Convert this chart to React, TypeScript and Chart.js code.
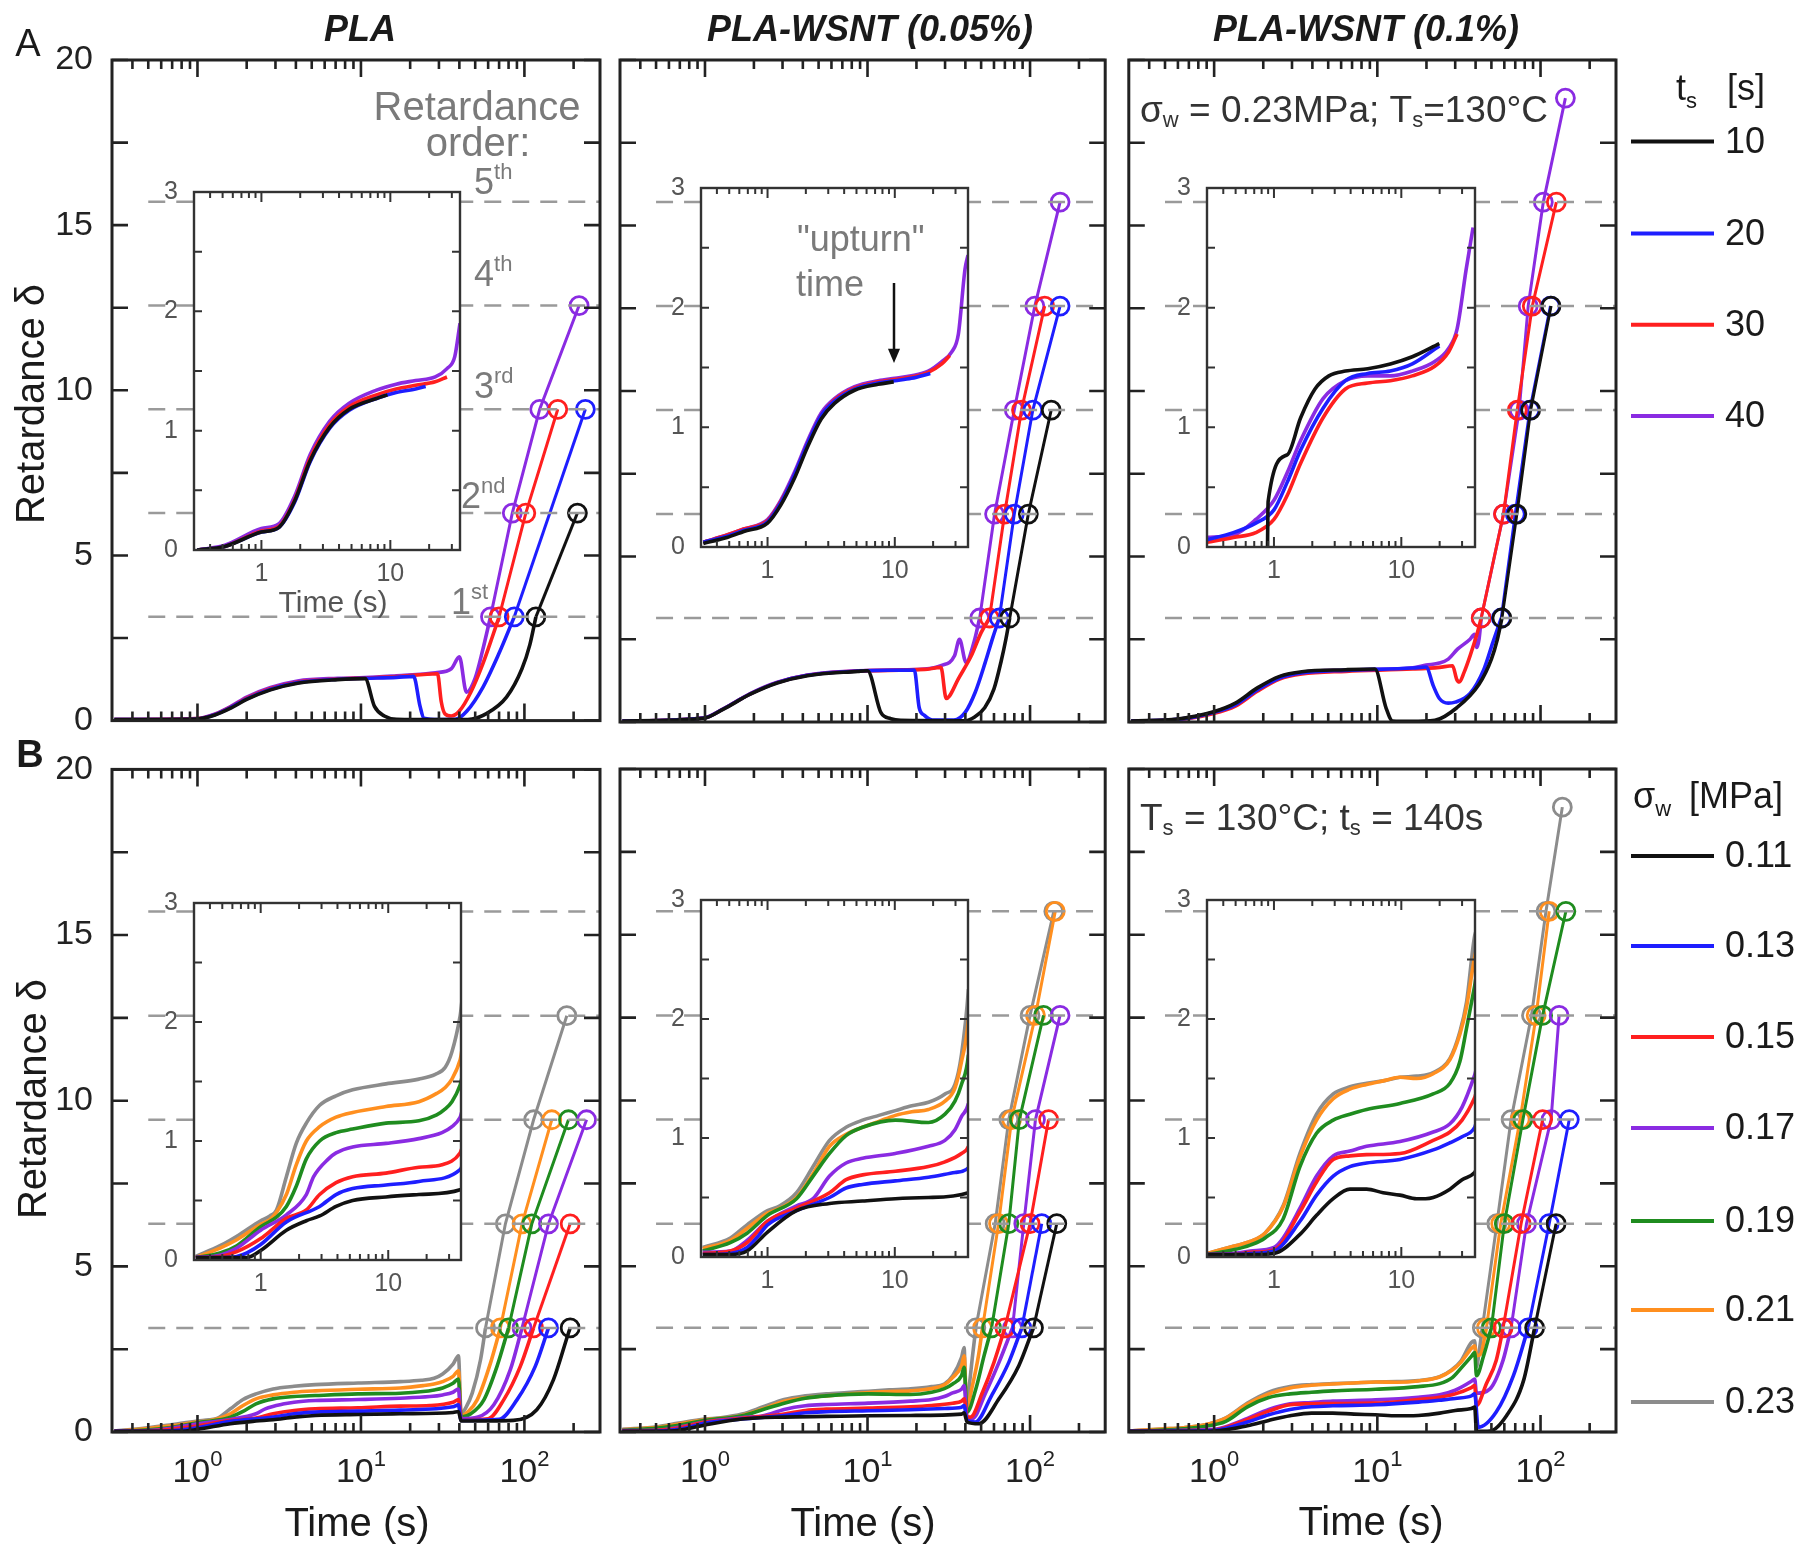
import React, { useEffect, useRef } from "react";
import { Chart, registerables } from "chart.js";

Chart.register(...registerables);

type Pt = [number, number];
type Ord = [number, number]; // [retardance order n, time (s)]

const FONT = '"Liberation Sans", Arial, Helvetica, sans-serif';
const PI = Math.PI;

// ---------------- colours ----------------
const BLACK = "#111111";
const BLUE = "#1e1eff";
const RED = "#ff1f1f";
const PURPLE = "#8a2be2";
const GREEN = "#1f8c1f";
const ORANGE = "#ff8f1f";
const GRAY = "#8c8c8c";

// ---------------- categories / ticks ----------------
const ORDER_N = [1, 2, 3, 4, 5];
const DASH_X = [0.5, 290];
const TS_LABELS = ["10", "20", "30", "40"];
const SIGMA_LABELS = ["0.11", "0.13", "0.15", "0.17", "0.19", "0.21", "0.23"];
const MAIN_Y_TICKS = [0, 5, 10, 15, 20];
const MAIN_Y_MINOR = [0, 2.5, 5, 7.5, 10, 12.5, 15, 17.5, 20];
const MAIN_X_DECADES = [1, 10, 100];
const MAIN_X_MINOR = [0.4, 0.5, 0.6, 0.7, 0.8, 0.9, 2, 3, 4, 5, 6, 7, 8, 9, 20, 30, 40, 50, 60, 70, 80, 90, 200];
const INSET_Y_TICKS = [0, 1, 2, 3];
const INSET_Y_MINOR = [0, 0.5, 1, 1.5, 2, 2.5, 3];
const INSET_X_DECADES = [1, 10];
const INSET_X_MINOR = [0.4, 0.5, 0.6, 0.7, 0.8, 0.9, 2, 3, 4, 5, 6, 7, 8, 9, 20, 30];

// ================= A1 : PLA (t_s series) =================
const A1_black: Pt[] = [[0.31,0.03],[1.0,0.05],[1.28,0.17],[1.6,0.38],[2.0,0.64],[2.8,0.93],[4.1,1.13],[7.2,1.24],[10.6,1.27],[12.1,0.43],[13.9,0.14],[16.5,0.04],[30,0.03],[45,0.03],[58.6,0.21],[77.7,0.71],[96.6,1.57],[108,2.3]];
const A1_black_ord: Ord[] = [[1,117.6],[2,211]];
const A1_blue: Pt[] = [[0.31,0.03],[1.0,0.05],[1.28,0.18],[1.6,0.4],[2.0,0.66],[2.8,0.95],[4.1,1.15],[7.2,1.25],[10.6,1.28],[16.5,1.31],[21,1.34],[23,0.43],[24.3,0.07],[30,0.03],[38,0.04],[44.5,0.29],[55.6,1.0],[69.4,2.0]];
const A1_blue_ord: Ord[] = [[1,86.7],[3,236]];
const A1_red: Pt[] = [[0.31,0.03],[1.0,0.06],[1.28,0.19],[1.6,0.41],[2.0,0.68],[2.8,0.97],[4.1,1.17],[7.2,1.26],[10.6,1.29],[16.5,1.33],[29.4,1.42],[31,0.57],[32.6,0.21],[35.7,0.14],[40,0.29],[47,0.86],[55.6,1.71],[64,2.57]];
const A1_red_ord: Ord[] = [[1,70],[2,102],[3,160]];
const A1_purple: Pt[] = [[0.31,0.03],[1.0,0.06],[1.28,0.2],[1.6,0.43],[2.0,0.71],[2.8,1.0],[4.1,1.2],[7.2,1.28],[10.6,1.3],[16.5,1.36],[28.6,1.45],[35.7,1.57],[40,1.93],[44.2,0.86],[49.9,1.28],[55.6,2.14]];
const A1_purple_ord: Ord[] = [[1,62],[2,84.3],[3,124],[4,216]];
// inset A1
const A1i_black: Pt[] = [[0.318,0.0],[0.52,0.03],[1.0,0.15],[1.37,0.19],[1.81,0.41],[2.39,0.75],[3.39,1.03],[4.8,1.18],[7.8,1.27],[9.5,1.3]];
const A1i_blue: Pt[] = [[0.318,0.0],[0.52,0.03],[1.0,0.15],[1.37,0.19],[1.81,0.4],[2.39,0.74],[3.39,1.02],[4.8,1.17],[7.8,1.27],[11.1,1.32],[15.7,1.35],[18.8,1.37]];
const A1i_red: Pt[] = [[0.318,0.0],[0.52,0.03],[1.0,0.16],[1.37,0.2],[1.81,0.42],[2.39,0.77],[3.39,1.05],[4.8,1.2],[7.8,1.3],[11.1,1.35],[15.7,1.38],[22.3,1.41],[27.5,1.45]];
const A1i_purple: Pt[] = [[0.318,0.0],[0.52,0.04],[1.0,0.18],[1.37,0.22],[1.81,0.45],[2.39,0.8],[3.39,1.08],[4.8,1.23],[7.8,1.34],[11.1,1.39],[15.7,1.42],[22.3,1.45],[27.5,1.52],[31.6,1.62],[34.7,1.9]];

// ================= A2 : PLA-WSNT 0.05% =================
const A2_black: Pt[] = [[0.31,0.03],[0.98,0.11],[1.3,0.39],[1.9,0.84],[2.78,1.18],[4.27,1.4],[8.7,1.53],[10,1.55],[12.1,0.28],[13.9,0.1],[16,0.05],[40,0.04],[45.6,0.15],[52.6,0.43],[60,1.0],[66.5,1.85],[71,2.5]];
const A2_black_ord: Ord[] = [[1,75],[2,97.6],[3,135]];
const A2_blue: Pt[] = [[0.31,0.03],[0.98,0.12],[1.3,0.4],[1.9,0.85],[2.78,1.19],[4.27,1.41],[8.7,1.54],[19.4,1.57],[20.8,0.43],[22.4,0.2],[25,0.06],[34,0.06],[40,0.3],[46,0.9],[53,1.8],[59,2.55]];
const A2_blue_ord: Ord[] = [[1,64.7],[2,80],[3,104],[4,153]];
const A2_red: Pt[] = [[0.31,0.03],[0.98,0.12],[1.3,0.4],[1.9,0.85],[2.78,1.19],[4.27,1.41],[8.7,1.54],[22.4,1.59],[28.3,1.65],[30.5,0.71],[31.9,0.78],[36,1.28],[43.5,2.0],[50,2.7]];
const A2_red_ord: Ord[] = [[1,56.3],[2,69.7],[3,88.6],[4,123]];
const A2_purple: Pt[] = [[0.31,0.03],[0.98,0.12],[1.3,0.4],[1.9,0.86],[2.78,1.2],[4.27,1.42],[8.7,1.55],[22.4,1.6],[28.3,1.7],[34.3,2.0],[36.8,2.5],[40.4,1.8],[45.3,2.43]];
const A2_purple_ord: Ord[] = [[1,49],[2,60.5],[3,80],[4,107],[5,153]];
// inset A2
const A2i_black: Pt[] = [[0.313,0.03],[0.48,0.08],[0.65,0.13],[1.0,0.2],[1.27,0.35],[1.62,0.57],[2.07,0.84],[2.64,1.07],[3.36,1.2],[4.83,1.31],[7.4,1.36],[9.8,1.38]];
const A2i_blue: Pt[] = [[0.313,0.04],[0.48,0.09],[0.65,0.14],[1.0,0.21],[1.27,0.37],[1.62,0.6],[2.07,0.87],[2.64,1.1],[3.36,1.22],[4.83,1.32],[7.4,1.37],[10,1.39],[13.5,1.41],[19,1.45]];
const A2i_red: Pt[] = [[0.313,0.04],[0.48,0.1],[0.65,0.15],[1.0,0.22],[1.27,0.38],[1.62,0.6],[2.07,0.87],[2.64,1.1],[3.36,1.23],[4.83,1.33],[7.4,1.38],[10,1.4],[13.5,1.42],[18.3,1.46],[23.4,1.53],[27,1.6]];
const A2i_purple: Pt[] = [[0.313,0.04],[0.48,0.1],[0.65,0.15],[1.0,0.23],[1.27,0.39],[1.62,0.62],[2.07,0.89],[2.64,1.12],[3.36,1.24],[4.83,1.34],[7.4,1.39],[10,1.41],[13.5,1.43],[18.3,1.47],[23.4,1.55],[28,1.63],[31.6,1.78],[35.6,2.32],[37.6,2.44]];

// ================= A3 : PLA-WSNT 0.1% =================
const A3_black: Pt[] = [[0.31,0.03],[0.6,0.09],[0.98,0.3],[1.35,0.57],[1.84,1.03],[2.52,1.38],[3.45,1.52],[6.44,1.58],[9.66,1.6],[11.3,0.43],[12.4,0.03],[16,0.02],[22.5,0.05],[30.7,0.43],[42,1.14],[50,1.9],[54.4,2.5]];
const A3_black_ord: Ord[] = [[1,58],[2,71.6],[3,87],[4,116]];
const A3_blue: Pt[] = [[0.31,0.03],[0.6,0.08],[0.98,0.28],[1.35,0.52],[1.84,0.97],[2.52,1.33],[3.45,1.48],[6.44,1.56],[16.5,1.63],[19.9,1.66],[22,1.1],[24,0.71],[27.2,0.57],[30,0.6],[37,0.86],[44.8,1.57],[51,2.4]];
const A3_blue_ord: Ord[] = [[1,57.5],[2,70],[3,86],[4,115]];
const A3_red: Pt[] = [[0.31,0.03],[0.6,0.07],[0.98,0.25],[1.35,0.48],[1.84,0.93],[2.52,1.3],[3.45,1.45],[6.44,1.53],[16.5,1.6],[24,1.65],[28.9,1.7],[30.7,1.28],[31.8,1.21],[34,1.5],[37,2.0],[40.7,2.64]];
const A3_red_ord: Ord[] = [[1,43.3],[2,59.3],[3,72],[4,89],[5,125]];
const A3_purple: Pt[] = [[0.31,0.03],[0.6,0.08],[0.98,0.29],[1.35,0.55],[1.84,1.0],[2.52,1.36],[3.45,1.5],[6.44,1.57],[16.5,1.64],[19.9,1.72],[24,1.78],[27.2,1.9],[31,2.2],[37,2.5],[39.4,2.65],[40.7,2.25],[42,2.5]];
const A3_purple_ord: Ord[] = [[1,43.3],[2,59.3],[3,74],[4,84],[5,104],[6,142]];
// inset A3
const A3i_black: Pt[] = [[0.89,0.0],[0.9,0.38],[1.27,0.77],[1.62,1.08],[2.1,1.32],[2.7,1.43],[3.64,1.47],[5.45,1.49],[8.2,1.53],[12.2,1.59],[19.9,1.7]];
const A3i_blue: Pt[] = [[0.298,0.06],[0.48,0.12],[0.72,0.2],[1.0,0.31],[1.27,0.54],[1.62,0.81],[2.43,1.16],[3.64,1.39],[5.45,1.45],[8.2,1.47],[12.2,1.53],[19.9,1.68]];
const A3i_red: Pt[] = [[0.298,0.04],[0.48,0.08],[0.72,0.12],[1.0,0.23],[1.27,0.43],[1.62,0.7],[2.43,1.08],[3.64,1.32],[5.45,1.37],[8.2,1.39],[12.2,1.43],[18.3,1.51],[23.5,1.63],[27.4,1.78]];
const A3i_purple: Pt[] = [[0.298,0.08],[0.48,0.1],[0.72,0.23],[1.0,0.39],[1.27,0.62],[1.62,0.89],[2.43,1.24],[3.64,1.39],[5.45,1.43],[8.2,1.43],[12.2,1.47],[18.3,1.55],[23.5,1.66],[27.4,1.82],[32.3,2.32],[36.6,2.67]];

// ================= B1 : PLA (sigma_w series) =================
const B1_black: Pt[] = [[0.31,0.02],[0.78,0.02],[1.0,0.08],[1.59,0.25],[2.28,0.33],[2.9,0.37],[3.9,0.45],[5.26,0.5],[9.6,0.53],[17.4,0.55],[36.6,0.59],[39.5,0.62],[41,0.33],[85.6,0.35],[119,0.67],[150.6,1.58],[186,2.99]];
const B1_black_ord: Ord[] = [[1,190.5]];
const B1_blue: Pt[] = [[0.31,0.02],[0.48,0.02],[0.65,0.03],[0.78,0.06],[1.0,0.13],[1.59,0.32],[2.9,0.45],[3.9,0.55],[5.26,0.6],[9.6,0.63],[17.4,0.66],[36.6,0.76],[39.5,0.82],[41,0.35],[70,0.38],[90,0.97],[116.5,1.98]];
const B1_blue_ord: Ord[] = [[1,140.4]];
const B1_red: Pt[] = [[0.31,0.02],[0.48,0.03],[0.65,0.07],[1.0,0.18],[1.59,0.35],[2.28,0.42],[2.9,0.55],[3.9,0.65],[5.26,0.7],[9.6,0.73],[17.4,0.78],[26.4,0.8],[36.6,0.9],[39.5,0.98],[41,0.37],[60,0.4],[74.7,0.97],[94.4,1.98]];
const B1_red_ord: Ord[] = [[1,113.8],[2,190.5]];
const B1_purple: Pt[] = [[0.31,0.02],[0.48,0.04],[0.65,0.1],[1.0,0.25],[1.59,0.38],[2.28,0.55],[2.6,0.7],[3.4,0.85],[3.9,0.9],[5.26,0.95],[9.6,0.98],[17.4,1.02],[26.4,1.07],[31.6,1.12],[36.6,1.2],[39.5,1.3],[41,0.4],[52,0.45],[65,0.82],[82,1.88]];
const B1_purple_ord: Ord[] = [[1,96.7],[2,140.4],[3,240]];
const B1_green: Pt[] = [[0.31,0.02],[0.48,0.06],[0.65,0.12],[1.0,0.28],[1.33,0.36],[1.59,0.45],[1.9,0.62],[2.28,0.85],[2.9,1.0],[3.9,1.07],[5.26,1.1],[9.6,1.15],[17.4,1.17],[24,1.22],[28,1.27],[31.6,1.33],[36.6,1.47],[39.5,1.6],[41,0.45],[47,0.55],[56.5,0.97],[68,1.98]];
const B1_green_ord: Ord[] = [[1,80],[2,111],[3,186]];
const B1_orange: Pt[] = [[0.31,0.02],[0.48,0.1],[0.65,0.17],[1.0,0.3],[1.18,0.34],[1.33,0.4],[1.59,0.55],[1.9,0.8],[2.28,1.0],[2.9,1.12],[3.9,1.2],[5.26,1.24],[9.6,1.29],[17.4,1.33],[24,1.4],[28,1.45],[31.6,1.52],[36.6,1.68],[39.5,1.85],[41,0.5],[45,0.6],[51.4,0.97],[62,2.08]];
const B1_orange_ord: Ord[] = [[1,71.3],[2,96.7],[3,147]];
const B1_gray: Pt[] = [[0.31,0.03],[0.48,0.12],[0.65,0.2],[1.0,0.33],[1.18,0.37],[1.33,0.42],[1.59,0.7],[1.9,0.98],[2.28,1.15],[2.9,1.3],[3.9,1.38],[5.26,1.43],[9.6,1.48],[17.4,1.52],[23.4,1.56],[28,1.62],[31.6,1.75],[36.6,2.05],[39.5,2.3],[41,0.55],[44,0.75],[48,1.18],[53.9,2.18]];
const B1_gray_ord: Ord[] = [[1,57.8],[2,76.5],[3,113.8],[4,181.7]];

// ================= B2 : PLA-WSNT 0.05% =================
const B2_black: Pt[] = [[0.31,0.02],[0.51,0.02],[0.69,0.05],[1.0,0.21],[1.69,0.39],[3.07,0.45],[5.58,0.47],[10.1,0.49],[18.4,0.5],[37.9,0.54],[39.3,0.58],[41,0.3],[48.5,0.25],[64.4,1.0],[85.3,2.0]];
const B2_black_ord: Ord[] = [[1,105],[2,146]];
const B2_blue: Pt[] = [[0.31,0.02],[0.51,0.03],[0.69,0.08],[0.85,0.18],[1.0,0.27],[1.69,0.39],[3.07,0.5],[4.14,0.58],[5.58,0.61],[10.1,0.64],[18.4,0.67],[29.7,0.71],[37.9,0.75],[39.3,0.8],[41,0.35],[46,0.3],[58,1.1],[74,2.1]];
const B2_blue_ord: Ord[] = [[1,89],[2,118]];
const B2_red: Pt[] = [[0.31,0.03],[0.51,0.05],[0.69,0.12],[1.0,0.3],[1.69,0.41],[3.07,0.54],[4.14,0.65],[5.58,0.69],[10.1,0.72],[18.4,0.76],[24.8,0.8],[33.4,0.87],[37.9,0.93],[39.3,1.0],[41,0.45],[43,0.45],[51,1.2],[60,2.1]];
const B2_red_ord: Ord[] = [[1,70],[2,100],[3,130]];
const B2_purple: Pt[] = [[0.31,0.04],[0.51,0.05],[0.69,0.14],[1.0,0.3],[1.69,0.43],[2.28,0.49],[3.07,0.68],[4.14,0.79],[5.58,0.83],[10.1,0.87],[18.4,0.93],[24.8,0.98],[29.7,1.07],[33.4,1.18],[37.9,1.29],[39.3,1.4],[41,0.45],[44,0.4],[53.5,1.2],[64.4,2.1]];
const B2_purple_ord: Ord[] = [[1,78],[2,91.5],[3,108],[4,153]];
const B2_green: Pt[] = [[0.31,0.05],[0.51,0.12],[0.69,0.2],[1.0,0.35],[1.69,0.49],[2.28,0.68],[3.07,0.87],[4.14,1.02],[5.58,1.09],[10.1,1.15],[18.4,1.13],[24.8,1.2],[29.7,1.31],[33.4,1.45],[37.9,1.7],[39.3,1.95],[41,0.6],[46.4,1.3],[52.2,2.31]];
const B2_green_ord: Ord[] = [[1,58],[2,74],[3,86],[4,121]];
const B2_orange: Pt[] = [[0.31,0.07],[0.51,0.14],[0.69,0.24],[1.0,0.37],[1.25,0.41],[1.69,0.5],[2.28,0.7],[3.07,0.93],[4.14,1.03],[5.58,1.09],[7.5,1.14],[10.1,1.19],[13.6,1.22],[18.4,1.24],[24.8,1.31],[29.7,1.42],[33.4,1.64],[37.9,2.0],[39.3,2.3],[40.8,0.75],[44.3,1.42],[48.2,2.31]];
const B2_orange_ord: Ord[] = [[1,51],[2,64],[3,77],[4,108],[5,143]];
const B2_gray: Pt[] = [[0.31,0.08],[0.51,0.16],[0.69,0.27],[1.0,0.39],[1.25,0.43],[1.69,0.54],[2.28,0.76],[3.07,0.98],[4.14,1.09],[5.58,1.15],[7.5,1.19],[10.1,1.23],[13.6,1.27],[18.4,1.3],[24.8,1.37],[29.7,1.45],[33.4,1.7],[37.9,2.25],[39.3,2.55],[40.4,0.86],[42.3,1.42],[44.3,2.31]];
const B2_gray_ord: Ord[] = [[1,46.4],[2,61],[3,74],[4,100],[5,140]];

// ================= B3 : PLA-WSNT 0.1% =================
const B3_black: Pt[] = [[0.3,0.02],[0.65,0.02],[1.0,0.03],[1.6,0.19],[2.16,0.35],[2.92,0.49],[3.95,0.57],[5.34,0.57],[7.2,0.54],[9.76,0.52],[13.2,0.49],[15.5,0.49],[17.8,0.5],[24.1,0.57],[30,0.65],[37.7,0.71],[39.5,0.75],[40.5,0.02],[49,0.03],[62,0.5],[79,1.58]];
const B3_black_ord: Ord[] = [[1,92],[2,124.5]];
const B3_blue: Pt[] = [[0.3,0.02],[0.48,0.02],[0.65,0.03],[1.0,0.05],[1.6,0.3],[2.16,0.52],[2.92,0.68],[3.95,0.76],[5.34,0.79],[9.76,0.82],[17.8,0.9],[24.1,0.96],[30,1.01],[37.7,1.09],[39.5,1.15],[41.5,0.14],[53.5,0.6],[68.2,1.7]];
const B3_blue_ord: Ord[] = [[1,84],[2,113],[3,150]];
const B3_red: Pt[] = [[0.3,0.02],[0.48,0.02],[0.65,0.04],[1.0,0.06],[1.6,0.38],[2.16,0.63],[2.92,0.82],[3.95,0.85],[5.34,0.86],[9.76,0.87],[17.8,0.98],[24.1,1.05],[30,1.15],[37.7,1.34],[39.5,1.4],[40.5,0.8],[46.5,1.45],[53.5,2.16]];
const B3_red_ord: Ord[] = [[1,59],[2,76],[3,103]];
const B3_purple: Pt[] = [[0.3,0.02],[0.48,0.03],[0.65,0.05],[1.0,0.08],[1.18,0.16],[1.6,0.41],[2.16,0.68],[2.92,0.85],[3.95,0.89],[5.34,0.93],[9.76,0.97],[17.8,1.05],[24.1,1.12],[30,1.26],[37.7,1.53],[39.5,1.6],[40.5,1.17],[49,1.3],[58.9,2.16]];
const B3_purple_ord: Ord[] = [[1,66],[2,82],[3,116],[4,130]];
const B3_green: Pt[] = [[0.3,0.02],[0.48,0.06],[0.65,0.1],[0.85,0.16],[1.18,0.32],[1.6,0.76],[2.16,1.04],[2.92,1.15],[3.95,1.2],[5.34,1.24],[9.76,1.29],[17.8,1.37],[24.1,1.46],[28.8,1.64],[32.5,1.92],[37.7,2.28],[39.5,2.4],[40.5,1.7],[44.8,2.3]];
const B3_green_ord: Ord[] = [[1,50],[2,60],[3,78],[4,103],[5,143]];
const B3_orange: Pt[] = [[0.3,0.03],[0.48,0.09],[0.65,0.13],[0.85,0.2],[1.18,0.42],[1.6,0.84],[2.16,1.15],[2.92,1.33],[3.95,1.41],[5.34,1.45],[7.2,1.48],[9.76,1.51],[13.2,1.5],[17.8,1.54],[24.1,1.66],[28.8,1.87],[32.5,2.1],[37.7,2.52],[39.5,2.6],[40.5,2.3],[43,2.35]];
const B3_orange_ord: Ord[] = [[1,46.6],[2,57],[3,75],[4,94],[5,113]];
const B3_gray: Pt[] = [[0.3,0.03],[0.48,0.09],[0.65,0.13],[0.85,0.2],[1.18,0.43],[1.6,0.87],[2.16,1.2],[2.92,1.37],[3.95,1.43],[5.34,1.46],[7.2,1.48],[9.76,1.51],[13.2,1.52],[17.8,1.55],[24.1,1.67],[28.8,1.89],[32.5,2.14],[37.7,2.7],[39.5,2.75],[40.5,1.97],[42,2.4]];
const B3_gray_ord: Ord[] = [[1,44],[2,54],[3,66],[4,88],[5,108],[6,136]];

// ================= drawing helpers =================
type Run = { t: string; size: number; dy?: number; weight?: string; style?: string; gap?: number };

function fontOf(r: Run) {
  return `${r.style || "normal"} ${r.weight || "normal"} ${r.size}px ${FONT}`;
}

function drawRuns(ctx: CanvasRenderingContext2D, x: number, y: number, runs: Run[], align: string, color: string) {
  ctx.fillStyle = color;
  ctx.textBaseline = "middle";
  ctx.textAlign = "left";
  let total = 0;
  const ws = runs.map((r) => {
    ctx.font = fontOf(r);
    const w = ctx.measureText(r.t).width;
    total += w + (r.gap || 0);
    return w;
  });
  let cx = align === "center" ? x - total / 2 : align === "right" ? x - total : x;
  runs.forEach((r, i) => {
    ctx.font = fontOf(r);
    cx += r.gap || 0;
    ctx.fillText(r.t, cx, y + (r.dy || 0));
    cx += ws[i];
  });
}

function makeFrame(o: any) {
  return {
    id: "frame",
    afterDraw(chart: any) {
      const ctx = chart.ctx as CanvasRenderingContext2D;
      const { left, right, top, bottom } = chart.chartArea;
      const xs = chart.scales.x;
      const ys = chart.scales.y;
      ctx.save();
      ctx.strokeStyle = o.color;
      ctx.lineWidth = o.tickWidth;
      ctx.beginPath();
      for (const v of o.yTicks) {
        const py = ys.getPixelForValue(v);
        ctx.moveTo(left, py);
        ctx.lineTo(left + o.yLen, py);
        ctx.moveTo(right, py);
        ctx.lineTo(right - o.yLen, py);
      }
      const xt = (vals: number[], len: number) => {
        for (const v of vals) {
          if (v <= xs.min || v >= xs.max) continue;
          const px = xs.getPixelForValue(v);
          ctx.moveTo(px, bottom);
          ctx.lineTo(px, bottom - len);
          ctx.moveTo(px, top);
          ctx.lineTo(px, top + len);
        }
      };
      xt(o.xMajor, o.xMajorLen);
      xt(o.xMinor, o.xMinorLen);
      ctx.stroke();
      ctx.lineWidth = o.frameWidth;
      ctx.strokeRect(left, top, right - left, bottom - top);
      if (o.xLabels) {
        for (const lab of o.xLabels) {
          drawRuns(ctx, xs.getPixelForValue(lab.v), bottom + o.xLabelDy, lab.runs, "center", o.labelColor);
        }
      }
      ctx.restore();
    },
  };
}

function makeDeco(origin: [number, number], items: any[]) {
  return {
    id: "deco",
    afterDraw(chart: any) {
      const ctx = chart.ctx as CanvasRenderingContext2D;
      ctx.save();
      ctx.translate(-origin[0], -origin[1]);
      for (const it of items) {
        if (it.kind === "text") {
          if (it.rotate) {
            ctx.save();
            ctx.translate(it.x, it.y);
            ctx.rotate(it.rotate);
            drawRuns(ctx, 0, 0, it.runs, it.align || "center", it.color);
            ctx.restore();
          } else {
            drawRuns(ctx, it.x, it.y, it.runs, it.align || "left", it.color);
          }
        } else if (it.kind === "line") {
          ctx.strokeStyle = it.color;
          ctx.lineWidth = it.width;
          ctx.beginPath();
          ctx.moveTo(it.x1, it.y1);
          ctx.lineTo(it.x2, it.y2);
          ctx.stroke();
        } else if (it.kind === "arrow") {
          ctx.strokeStyle = it.color;
          ctx.fillStyle = it.color;
          ctx.lineWidth = it.width;
          ctx.beginPath();
          ctx.moveTo(it.x, it.y1);
          ctx.lineTo(it.x, it.y2 - it.head);
          ctx.stroke();
          ctx.beginPath();
          ctx.moveTo(it.x - it.head * 0.55, it.y2 - it.head * 1.3);
          ctx.lineTo(it.x + it.head * 0.55, it.y2 - it.head * 1.3);
          ctx.lineTo(it.x, it.y2);
          ctx.closePath();
          ctx.fill();
        }
      }
      ctx.restore();
    },
  };
}

const bgPlugin = {
  id: "insetBg",
  beforeDraw(chart: any) {
    const { left, right, top, bottom } = chart.chartArea;
    const ctx = chart.ctx;
    ctx.save();
    ctx.fillStyle = "#ffffff";
    ctx.fillRect(left, top, right - left, bottom - top);
    ctx.restore();
  },
};

// ================= panel definitions =================
type Box = { L: number; T: number; R: number; B: number };
type Cv = { x: number; y: number; w: number; h: number };
type Series = { color: string; curve: Pt[]; orders: Ord[] };

const T = (t: string, size: number, extra: Partial<Run> = {}): Run => ({ t, size, ...extra });

const A_SERIES = (blk: Pt[], blkO: Ord[], blu: Pt[], bluO: Ord[], rd: Pt[], rdO: Ord[], pu: Pt[], puO: Ord[]): Series[] => [
  { color: BLACK, curve: blk, orders: blkO },
  { color: BLUE, curve: blu, orders: bluO },
  { color: RED, curve: rd, orders: rdO },
  { color: PURPLE, curve: pu, orders: puO },
];

const A1_SER = A_SERIES(A1_black, A1_black_ord, A1_blue, A1_blue_ord, A1_red, A1_red_ord, A1_purple, A1_purple_ord);
const A2_SER = A_SERIES(A2_black, A2_black_ord, A2_blue, A2_blue_ord, A2_red, A2_red_ord, A2_purple, A2_purple_ord);
const A3_SER = A_SERIES(A3_black, A3_black_ord, A3_blue, A3_blue_ord, A3_red, A3_red_ord, A3_purple, A3_purple_ord);

const B_COLORS = [BLACK, BLUE, RED, PURPLE, GREEN, ORANGE, GRAY];
const B1_SER: Series[] = [
  { color: BLACK, curve: B1_black, orders: B1_black_ord },
  { color: BLUE, curve: B1_blue, orders: B1_blue_ord },
  { color: RED, curve: B1_red, orders: B1_red_ord },
  { color: PURPLE, curve: B1_purple, orders: B1_purple_ord },
  { color: GREEN, curve: B1_green, orders: B1_green_ord },
  { color: ORANGE, curve: B1_orange, orders: B1_orange_ord },
  { color: GRAY, curve: B1_gray, orders: B1_gray_ord },
];
const B2_SER: Series[] = [
  { color: BLACK, curve: B2_black, orders: B2_black_ord },
  { color: BLUE, curve: B2_blue, orders: B2_blue_ord },
  { color: RED, curve: B2_red, orders: B2_red_ord },
  { color: PURPLE, curve: B2_purple, orders: B2_purple_ord },
  { color: GREEN, curve: B2_green, orders: B2_green_ord },
  { color: ORANGE, curve: B2_orange, orders: B2_orange_ord },
  { color: GRAY, curve: B2_gray, orders: B2_gray_ord },
];
const B3_SER: Series[] = [
  { color: BLACK, curve: B3_black, orders: B3_black_ord },
  { color: BLUE, curve: B3_blue, orders: B3_blue_ord },
  { color: RED, curve: B3_red, orders: B3_red_ord },
  { color: PURPLE, curve: B3_purple, orders: B3_purple_ord },
  { color: GREEN, curve: B3_green, orders: B3_green_ord },
  { color: ORANGE, curve: B3_orange, orders: B3_orange_ord },
  { color: GRAY, curve: B3_gray, orders: B3_gray_ord },
];

const TXT = "#1a1a1a";
const GREYTXT = "#7a7a7a";
const ANN = "#333333";

const ordLabel = (d: string, sup: string, x: number, y: number) => ({
  kind: "text", x, y, align: "left", color: GREYTXT,
  runs: [T(d, 36), T(sup, 22, { dy: -11 })],
});

const LEG_A_Y = [141.6, 233.6, 324.7, 416];
const LEG_B_Y = [856, 946, 1037, 1128, 1221, 1310, 1402];
const legendItems = (labels: string[], colors: string[], ys: number[]) => {
  const out: any[] = [];
  labels.forEach((lab, i) => {
    out.push({ kind: "line", x1: 1631, y1: ys[i], x2: 1714, y2: ys[i], color: colors[i], width: 4 });
    out.push({ kind: "text", x: 1725, y: ys[i] + 1, align: "left", color: TXT, runs: [T(lab, 36)] });
  });
  return out;
};

const xDecadeLabels = [
  { v: 1, runs: [T("10", 34), T("0", 22, { dy: -13 })] },
  { v: 10, runs: [T("10", 34), T("1", 22, { dy: -13 })] },
  { v: 100, runs: [T("10", 34), T("2", 22, { dy: -13 })] },
];

const CV_A = { y: 0, h: 760 };
const CV_B = { y: 730, h: 823 };
const COLS = [
  { x: 0, w: 615 },
  { x: 607, w: 510 },
  { x: 1117, w: 683 },
];

type MainPanel = { box: Box; cv: Cv; series: Series[]; yLabels: boolean; xLabels: boolean; items: any[] };

const MAIN_PANELS: MainPanel[] = [
  {
    box: { L: 112, T: 60, R: 600, B: 722 }, cv: { ...COLS[0], ...CV_A }, series: A1_SER, yLabels: true, xLabels: false,
    items: [
      { kind: "text", x: 28, y: 46, align: "center", color: TXT, runs: [T("A", 38)] },
      { kind: "text", x: 360, y: 31, align: "center", color: TXT, runs: [T("PLA", 36, { weight: "bold", style: "italic" })] },
      { kind: "text", x: 33, y: 404, rotate: -Math.PI / 2, align: "center", color: TXT, runs: [T("Retardance δ", 40)] },
      { kind: "text", x: 477, y: 109, align: "center", color: GREYTXT, runs: [T("Retardance", 40)] },
      { kind: "text", x: 478, y: 145, align: "center", color: GREYTXT, runs: [T("order:", 40)] },
      ordLabel("5", "th", 474, 184),
      ordLabel("4", "th", 474, 276),
      ordLabel("3", "rd", 474, 388),
      ordLabel("2", "nd", 461, 498),
      ordLabel("1", "st", 451, 604),
    ],
  },
  {
    box: { L: 620, T: 60, R: 1107, B: 722 }, cv: { ...COLS[1], ...CV_A }, series: A2_SER, yLabels: false, xLabels: false,
    items: [
      { kind: "text", x: 870, y: 31, align: "center", color: TXT, runs: [T("PLA-WSNT (0.05%)", 36, { weight: "bold", style: "italic" })] },
    ],
  },
  {
    box: { L: 1127, T: 60, R: 1616, B: 722 }, cv: { ...COLS[2], ...CV_A }, series: A3_SER, yLabels: false, xLabels: false,
    items: [
      { kind: "text", x: 1366, y: 31, align: "center", color: TXT, runs: [T("PLA-WSNT (0.1%)", 36, { weight: "bold", style: "italic" })] },
      { kind: "text", x: 1140, y: 112, align: "left", color: ANN, runs: [T("σ", 37), T("w", 22, { dy: 9 }), T(" = 0.23MPa; T", 37), T("s", 22, { dy: 9 }), T("=130°C", 37)] },
      { kind: "text", x: 1676, y: 90, align: "left", color: TXT, runs: [T("t", 36), T("s", 22, { dy: 12 })] },
      { kind: "text", x: 1727, y: 90, align: "left", color: TXT, runs: [T("[s]", 36)] },
      ...legendItems(TS_LABELS, [BLACK, BLUE, RED, PURPLE], LEG_A_Y),
    ],
  },
  {
    box: { L: 112, T: 769, R: 600, B: 1432 }, cv: { ...COLS[0], ...CV_B }, series: B1_SER, yLabels: true, xLabels: true,
    items: [
      { kind: "text", x: 30, y: 757, align: "center", color: TXT, runs: [T("B", 38, { weight: "bold" })] },
      { kind: "text", x: 35, y: 1099, rotate: -Math.PI / 2, align: "center", color: TXT, runs: [T("Retardance δ", 40)] },
      { kind: "text", x: 357, y: 1525, align: "center", color: TXT, runs: [T("Time (s)", 40)] },
    ],
  },
  {
    box: { L: 620, T: 769, R: 1107, B: 1432 }, cv: { ...COLS[1], ...CV_B }, series: B2_SER, yLabels: false, xLabels: true,
    items: [{ kind: "text", x: 863, y: 1525, align: "center", color: TXT, runs: [T("Time (s)", 40)] }],
  },
  {
    box: { L: 1127, T: 769, R: 1616, B: 1432 }, cv: { ...COLS[2], ...CV_B }, series: B3_SER, yLabels: false, xLabels: true,
    items: [
      { kind: "text", x: 1371, y: 1524, align: "center", color: TXT, runs: [T("Time (s)", 40)] },
      { kind: "text", x: 1140, y: 820, align: "left", color: ANN, runs: [T("T", 37), T("s", 22, { dy: 9 }), T(" = 130°C; t", 37), T("s", 22, { dy: 9 }), T(" = 140s", 37)] },
      { kind: "text", x: 1633, y: 798, align: "left", color: TXT, runs: [T("σ", 36), T("w", 22, { dy: 12 })] },
      { kind: "text", x: 1689, y: 798, align: "left", color: TXT, runs: [T("[MPa]", 36)] },
      ...legendItems(SIGMA_LABELS, B_COLORS, LEG_B_Y),
    ],
  },
];

type InsetPanel = { box: Box; xmin: number; xmax: number; series: { color: string; curve: Pt[] }[]; items: any[] };

const INSETS: InsetPanel[] = [
  {
    box: { L: 194, T: 186, R: 460, B: 550 }, xmin: 0.318, xmax: 34.7,
    series: [{ color: BLACK, curve: A1i_black }, { color: BLUE, curve: A1i_blue }, { color: RED, curve: A1i_red }, { color: PURPLE, curve: A1i_purple }],
    items: [{ kind: "text", x: 333, y: 604, align: "center", color: "#555555", runs: [T("Time (s)", 30)] }],
  },
  {
    box: { L: 701, T: 182, R: 968, B: 547 }, xmin: 0.313, xmax: 37.6,
    series: [{ color: BLACK, curve: A2i_black }, { color: BLUE, curve: A2i_blue }, { color: RED, curve: A2i_red }, { color: PURPLE, curve: A2i_purple }],
    items: [
      { kind: "text", x: 797, y: 241, align: "left", color: GREYTXT, runs: [T('"upturn"', 36)] },
      { kind: "text", x: 796, y: 286, align: "left", color: GREYTXT, runs: [T("time", 36)] },
      { kind: "arrow", x: 894, y1: 283, y2: 363, color: "#111111", width: 2.5, head: 11 },
    ],
  },
  {
    box: { L: 1207, T: 182, R: 1475, B: 547 }, xmin: 0.298, xmax: 37.9,
    series: [{ color: BLACK, curve: A3i_black }, { color: BLUE, curve: A3i_blue }, { color: RED, curve: A3i_red }, { color: PURPLE, curve: A3i_purple }],
    items: [],
  },
  { box: { L: 194, T: 897, R: 461, B: 1260 }, xmin: 0.312, xmax: 37.2, series: B1_SER, items: [] },
  { box: { L: 701, T: 894, R: 968, B: 1257 }, xmin: 0.313, xmax: 37.6, series: B2_SER, items: [] },
  { box: { L: 1207, T: 894, R: 1475, B: 1257 }, xmin: 0.298, xmax: 37.9, series: B3_SER, items: [] },
];

// ================= chart configs =================
function mainConfig(p: MainPanel): any {
  const { L, T: top, R, B } = p.box;
  const { x: cx, y: cy, w: cw, h: ch } = p.cv;
  const datasets: any[] = ORDER_N.map((n) => ({
    data: [{ x: DASH_X[0], y: n * PI }, { x: DASH_X[1], y: n * PI }],
    borderColor: "#9a9a9a", borderWidth: 2.5, borderDash: [17, 11], pointRadius: 0, tension: 0, fill: false,
  }));
  p.series.forEach((s) => {
    const f = s.orders[0];
    datasets.push({
      data: s.curve.map(([x, y]) => ({ x, y })).concat([{ x: f[1], y: f[0] * PI }]),
      borderColor: s.color, borderWidth: 3.6, pointRadius: 0, cubicInterpolationMode: "monotone", fill: false,
    });
    datasets.push({
      data: s.orders.map(([n, t]) => ({ x: t, y: n * PI })),
      borderColor: s.color, borderWidth: 3, pointRadius: 9, pointHoverRadius: 9, pointBorderWidth: 2.8,
      pointBorderColor: s.color, pointBackgroundColor: "rgba(0,0,0,0)", tension: 0, fill: false,
    });
  });
  const frame = makeFrame({
    color: "#222222", tickWidth: 2.6, frameWidth: 3, yTicks: MAIN_Y_MINOR, yLen: 16,
    xMajor: MAIN_X_DECADES, xMinor: MAIN_X_MINOR, xMajorLen: 17, xMinorLen: 9,
    xLabels: p.xLabels ? xDecadeLabels : null, xLabelDy: 41, labelColor: "#222222",
  });
  return {
    type: "line",
    data: { datasets },
    options: {
      responsive: false, animation: false, devicePixelRatio: 1, events: [],
      layout: { padding: { left: 0, top: top - cy, right: cx + cw - R, bottom: 0 } },
      scales: {
        x: {
          type: "logarithmic", min: 0.31, max: 290,
          grid: { display: false, drawTicks: false }, border: { display: false },
          ticks: { display: false },
          afterBuildTicks: (s: any) => { s.ticks = MAIN_X_DECADES.map((v) => ({ value: v })); },
          afterFit: (s: any) => { s.height = cy + ch - B; },
        },
        y: {
          type: "linear", min: 0, max: 20,
          grid: { display: false, drawTicks: false }, border: { display: false },
          ticks: { display: p.yLabels, font: { family: FONT, size: 34 }, color: "#222222", padding: 19 },
          afterBuildTicks: (s: any) => { s.ticks = MAIN_Y_TICKS.map((v) => ({ value: v })); },
          afterFit: (s: any) => { s.width = L - cx; },
        },
      },
      plugins: { legend: { display: false }, tooltip: { enabled: false } },
    },
    plugins: [frame, makeDeco([cx, cy], p.items)],
  };
}

function insetCanvas(p: InsetPanel): Cv {
  const { L, T: top, R, B } = p.box;
  return { x: L - 60, y: top - 25, w: R - L + 75, h: B - top + 100 };
}

function insetConfig(p: InsetPanel): any {
  const { L, T: top, R, B } = p.box;
  const cv = insetCanvas(p);
  const datasets = p.series.map((s) => ({
    data: s.curve.map(([x, y]) => ({ x, y })),
    borderColor: s.color, borderWidth: 3.6, pointRadius: 0, cubicInterpolationMode: "monotone", fill: false,
  }));
  const frame = makeFrame({
    color: "#333333", tickWidth: 2, frameWidth: 2.4, yTicks: INSET_Y_MINOR, yLen: 8,
    xMajor: INSET_X_DECADES, xMinor: INSET_X_MINOR, xMajorLen: 10, xMinorLen: 6,
    xLabels: INSET_X_DECADES.map((v) => ({ v, runs: [T(String(v), 25)] })), xLabelDy: 24, labelColor: "#555555",
  });
  return {
    type: "line",
    data: { datasets },
    options: {
      responsive: false, animation: false, devicePixelRatio: 1, events: [],
      layout: { padding: { left: 0, top: top - cv.y, right: cv.x + cv.w - R, bottom: 0 } },
      scales: {
        x: {
          type: "logarithmic", min: p.xmin, max: p.xmax,
          grid: { display: false, drawTicks: false }, border: { display: false },
          ticks: { display: false },
          afterBuildTicks: (s: any) => { s.ticks = INSET_X_DECADES.map((v) => ({ value: v })); },
          afterFit: (s: any) => { s.height = cv.y + cv.h - B; },
        },
        y: {
          type: "linear", min: 0, max: 3,
          grid: { display: false, drawTicks: false }, border: { display: false },
          ticks: { display: true, font: { family: FONT, size: 25 }, color: "#555555", padding: 16 },
          afterBuildTicks: (s: any) => { s.ticks = INSET_Y_TICKS.map((v) => ({ value: v })); },
          afterFit: (s: any) => { s.width = L - cv.x; },
        },
      },
      plugins: { legend: { display: false }, tooltip: { enabled: false } },
    },
    plugins: [bgPlugin, frame, makeDeco([cv.x, cv.y], p.items)],
  };
}

const CANVASES: { cv: Cv; make: () => any }[] = [
  ...MAIN_PANELS.map((p) => ({ cv: p.cv, make: () => mainConfig(p) })),
  ...INSETS.map((p) => ({ cv: insetCanvas(p), make: () => insetConfig(p) })),
];

export default function App() {
  const refs = useRef<(HTMLCanvasElement | null)[]>([]);
  useEffect(() => {
    const charts: Chart[] = [];
    CANVASES.forEach((c, i) => {
      const el = refs.current[i];
      if (el) charts.push(new Chart(el, c.make()));
    });
    return () => {
      charts.forEach((ch) => ch.destroy());
    };
  }, []);
  return (
    <div style={{ position: "absolute", left: 0, top: 0, width: 1800, height: 1553, background: "#ffffff", overflow: "hidden" }}>
      {CANVASES.map((c, i) => (
        <canvas
          key={i}
          ref={(el) => { refs.current[i] = el; }}
          width={c.cv.w}
          height={c.cv.h}
          style={{ position: "absolute", left: c.cv.x, top: c.cv.y, width: c.cv.w, height: c.cv.h }}
        />
      ))}
    </div>
  );
}
